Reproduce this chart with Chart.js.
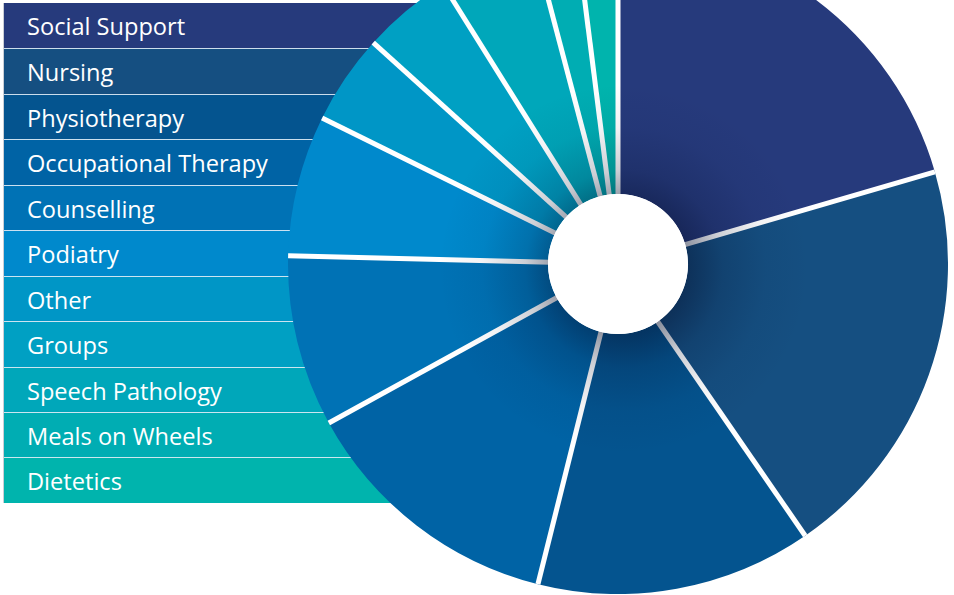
<!DOCTYPE html>
<html>
<head>
<meta charset="utf-8">
<script src="https://cdn.jsdelivr.net/npm/chart.js@4.4.1/dist/chart.umd.min.js"></script>
<style>
  html, body { margin: 0; padding: 0; background: #ffffff; }
  body { width: 954px; height: 595px; overflow: hidden; position: relative; }
  #legend { position: absolute; left: 3px; top: 3px; width: 520px; border-left: 1px solid #c9ced6; z-index: 1; }
  .row { position: relative; height: 45.45px; line-height: 45.45px; box-sizing: border-box;
         font-family: "Open Sans", sans-serif; font-size: 23.6px; color: #ffffff; padding-left: 23px; padding-top: 1px;
         white-space: nowrap; }
  .row + .row { border-top: 1px solid rgba(225,236,246,0.9); line-height: 44.45px; }
  #wrap { position: absolute; left: 288px; top: -66px; width: 660px; height: 660px; z-index: 2; }
</style>
</head>
<body>
<div id="legend"></div>
<div id="wrap"><canvas id="c" width="660" height="660"></canvas></div>
<script>
const categories = ["Social Support", "Nursing", "Physiotherapy", "Occupational Therapy", "Counselling",
  "Podiatry", "Other", "Groups", "Speech Pathology", "Meals on Wheels", "Dietetics"];
const shares = [20.5, 19.9, 13.5, 13.1, 8.4, 6.9, 4.4, 4.4, 4.8, 2.1, 2.0];
const colors = ["#263a7c", "#154f81", "#04548f", "#0063a5", "#0072b5", "#0089cc",
  "#0096c6", "#00a0c3", "#00a7ba", "#00adb3", "#00b4ad"];

// legend rows
const legend = document.getElementById('legend');
categories.forEach((name, i) => {
  const d = document.createElement('div');
  d.className = 'row';
  d.style.background = colors[i];
  d.textContent = name;
  legend.appendChild(d);
});

const decoPlugin = {
  id: 'deco',
  afterDatasetsDraw(chart) {
    const meta = chart.getDatasetMeta(0);
    const ctx = chart.ctx;
    const a0 = meta.data[0];
    const cx = a0.x, cy = a0.y, rIn = a0.innerRadius, rOut = a0.outerRadius;
    ctx.save();
    // white separators
    ctx.strokeStyle = '#ffffff';
    ctx.lineWidth = 5;
    ctx.lineCap = 'butt';
    meta.data.forEach(arc => {
      const a = arc.startAngle;
      ctx.beginPath();
      ctx.moveTo(cx + Math.cos(a) * (rIn - 2), cy + Math.sin(a) * (rIn - 2));
      ctx.lineTo(cx + Math.cos(a) * rOut, cy + Math.sin(a) * rOut);
      ctx.stroke();
    });
    // soft shadow around the hole
    const sx = cx + 6, sy = cy + 5;
    const g = ctx.createRadialGradient(sx, sy, rIn - 8, sx, sy, rIn + 115);
    g.addColorStop(0, 'rgba(5,15,45,0.48)');
    g.addColorStop(0.3, 'rgba(5,15,45,0.2)');
    g.addColorStop(0.65, 'rgba(5,15,45,0.05)');
    g.addColorStop(1, 'rgba(5,15,45,0)');
    ctx.beginPath();
    ctx.arc(cx, cy, rOut, 0, Math.PI * 2);
    ctx.arc(cx, cy, rIn, 0, Math.PI * 2, true);
    ctx.fillStyle = g;
    ctx.fill();
    // white hole
    ctx.beginPath();
    ctx.arc(cx, cy, rIn, 0, Math.PI * 2);
    ctx.fillStyle = '#ffffff';
    ctx.fill();
    ctx.restore();
  }
};

new Chart(document.getElementById('c'), {
  type: 'doughnut',
  data: {
    labels: categories,
    datasets: [{
      data: shares,
      backgroundColor: colors,
      borderWidth: 0,
      hoverOffset: 0,
      offset: 0
    }]
  },
  options: {
    responsive: false,
    animation: false,
    events: [],
    cutout: 70,
    layout: { padding: 0 },
    plugins: { legend: { display: false }, tooltip: { enabled: false } }
  },
  plugins: [decoPlugin]
});
</script>
</body>
</html>
